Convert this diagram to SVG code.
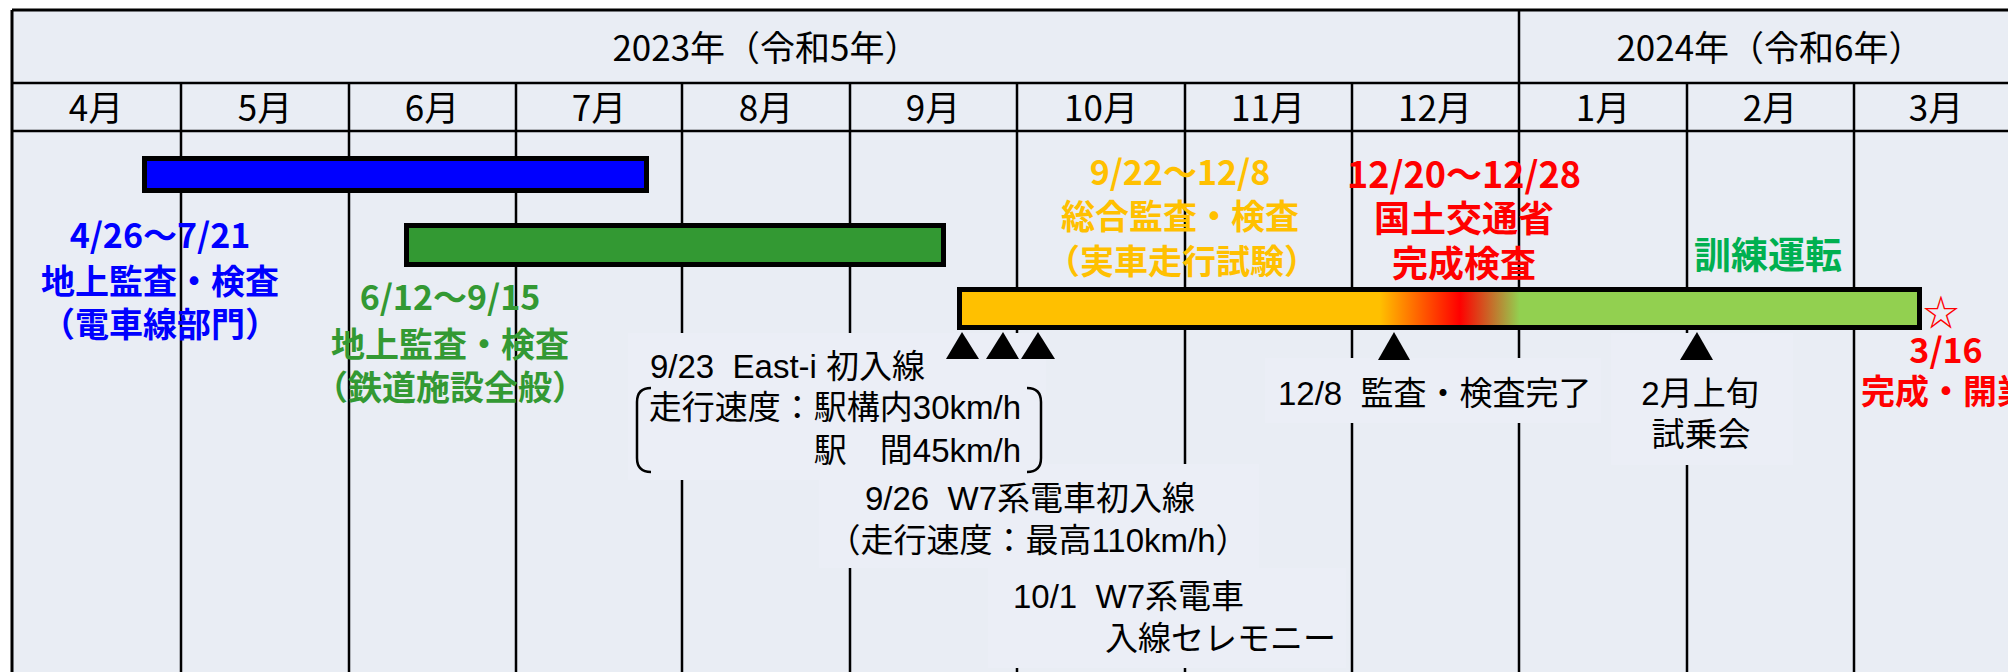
<svg xmlns="http://www.w3.org/2000/svg" width="2008" height="672" viewBox="0 0 2008 672">
<defs>
<style>
.hdr{font-family:"Noto Sans CJK JP","Noto Sans",sans-serif;font-size:35px;fill:#000;text-anchor:middle}
.lbl{font-family:"Liberation Sans","Noto Sans CJK JP",sans-serif;font-size:33px;fill:#000}
.big{font-family:"Noto Sans CJK JP",sans-serif;font-weight:bold;font-size:34px;text-anchor:middle}
.grid{stroke:#000;stroke-width:2.5;fill:none}
.box{fill:#EBEEF6}
.bar{stroke:#000;stroke-width:5}
.tri{fill:#000}
.brk{stroke:#000;stroke-width:2.5;fill:none}
</style>
<linearGradient id="grad" gradientUnits="userSpaceOnUse" x1="957" y1="0" x2="1922" y2="0">
<stop offset="0" stop-color="#FFC000"/>
<stop offset="0.438" stop-color="#FFC000"/>
<stop offset="0.521" stop-color="#FF0000"/>
<stop offset="0.583" stop-color="#92D050"/>
<stop offset="1" stop-color="#92D050"/>
</linearGradient>
</defs>
<rect x="0" y="0" width="2008" height="672" fill="#FFFFFF"/>
<rect x="12" y="10" width="2000" height="662" fill="#E9EDF4"/>
<g id="grid" class="grid">
<line x1="12" y1="10" x2="2008" y2="10" stroke-width="3"/>
<line x1="12" y1="10" x2="12" y2="672" stroke-width="3"/>
<line x1="12" y1="83" x2="2008" y2="83"/>
<line x1="12" y1="131" x2="2008" y2="131"/>
<line x1="1519" y1="10" x2="1519" y2="672"/>
<line x1="181" y1="83" x2="181" y2="672"/>
<line x1="349" y1="83" x2="349" y2="672"/>
<line x1="516" y1="83" x2="516" y2="672"/>
<line x1="682" y1="83" x2="682" y2="672"/>
<line x1="850" y1="83" x2="850" y2="672"/>
<line x1="1017" y1="83" x2="1017" y2="672"/>
<line x1="1185" y1="83" x2="1185" y2="672"/>
<line x1="1352" y1="83" x2="1352" y2="672"/>
<line x1="1687" y1="83" x2="1687" y2="672"/>
<line x1="1854" y1="83" x2="1854" y2="672"/>
</g>
<g id="header">
<text class="hdr" x="766" y="61">2023年（令和5年）</text>
<text class="hdr" x="1770" y="61">2024年（令和6年）</text>
<text class="hdr" x="96" y="121">4月</text>
<text class="hdr" x="265" y="121">5月</text>
<text class="hdr" x="432" y="121">6月</text>
<text class="hdr" x="599" y="121">7月</text>
<text class="hdr" x="766" y="121">8月</text>
<text class="hdr" x="933" y="121">9月</text>
<text class="hdr" x="1101" y="121">10月</text>
<text class="hdr" x="1268" y="121">11月</text>
<text class="hdr" x="1435" y="121">12月</text>
<text class="hdr" x="1603" y="121">1月</text>
<text class="hdr" x="1770" y="121">2月</text>
<text class="hdr" x="1936" y="121">3月</text>
</g>
<g id="label-boxes">
<rect class="box" x="628" y="333" width="418" height="147"/>
<rect class="box" x="819" y="464" width="440" height="104"/>
<rect class="box" x="988" y="568" width="358" height="100"/>
<rect class="box" x="1265" y="358" width="336" height="65"/>
<rect class="box" x="1611" y="333" width="182" height="132"/>
</g>
<g id="bar-denshasen">
<rect class="bar" x="144.5" y="158.5" width="502" height="32" fill="#0000FF"/>
<text class="big" fill="#0000FF" x="160" y="248">4/26～7/21</text>
<text class="big" fill="#0000FF" x="160" y="294">地上監査・検査</text>
<text class="big" fill="#0000FF" x="160" y="337">（電車線部門）</text>
</g>
<g id="bar-tetsudo">
<rect class="bar" x="406.5" y="225.5" width="537" height="39" fill="#339933"/>
<text class="big" fill="#339933" x="450" y="310">6/12～9/15</text>
<text class="big" fill="#339933" x="450" y="357">地上監査・検査</text>
<text class="big" fill="#339933" x="450" y="400">（鉄道施設全般）</text>
</g>
<g id="bar-main">
<rect class="bar" x="959.5" y="289.5" width="960" height="38" fill="url(#grad)"/>
</g>
<g id="sogo">
<text class="big" fill="#FFC000" x="1180" y="185">9/22～12/8</text>
<text class="big" fill="#FFC000" x="1180" y="229">総合監査・検査</text>
<text class="big" fill="#FFC000" x="1182" y="274">（実車走行試験）</text>
</g>
<g id="kansei-kensa">
<text class="big" fill="#FF0000" style="font-size:36px" x="1464" y="188">12/20～12/28</text>
<text class="big" fill="#FF0000" style="font-size:36px" x="1464" y="232">国土交通省</text>
<text class="big" fill="#FF0000" style="font-size:36px" x="1464" y="277">完成検査</text>
</g>
<g id="kunren">
<text class="big" fill="#00B050" style="font-size:37px" x="1768" y="269">訓練運転</text>
</g>
<g id="kaigyo">
<text class="big" fill="#FF0000" style="font-weight:normal;font-size:36px" x="1941" y="326">☆</text>
<text class="big" fill="#FF0000" x="1946" y="363">3/16</text>
<text class="big" fill="#FF0000" x="1946" y="404">完成・開業</text>
</g>
<g id="connectors">
<polygon class="tri" points="946,359 962,332 979,359"/>
<polygon class="tri" points="986,359 1003,332 1019,359"/>
<polygon class="tri" points="1021,359 1038,332 1055,359"/>
<polygon class="tri" points="1378,360 1394,332 1410,360"/>
<polygon class="tri" points="1680,360 1697,332 1713,360"/>
</g>
<g id="east-i">
<text class="lbl" x="650" y="378" xml:space="preserve">9/23  East-i 初入線</text>
<text class="lbl" x="1021" y="419" text-anchor="end">走行速度：駅構内30km/h</text>
<text class="lbl" x="1021" y="462" text-anchor="end">駅　間45km/h</text>
<path class="brk" d="M651,388 Q637,388 637,402 L637,458 Q637,472 651,472"/>
<path class="brk" d="M1027,388 Q1041,388 1041,402 L1041,458 Q1041,472 1027,472"/>
</g>
<g id="w7-first">
<text class="lbl" x="865" y="510" xml:space="preserve">9/26  W7系電車初入線</text>
<text class="lbl" x="1038" y="552" text-anchor="middle">（走行速度：最高110km/h）</text>
</g>
<g id="ceremony">
<text class="lbl" x="1013" y="608" xml:space="preserve">10/1  W7系電車</text>
<text class="lbl" x="1105" y="650">入線セレモニー</text>
</g>
<g id="kansa-kanryo">
<text class="lbl" x="1278" y="405" xml:space="preserve">12/8  監査・検査完了</text>
</g>
<g id="shijokai">
<text class="lbl" x="1700" y="405" text-anchor="middle">2月上旬</text>
<text class="lbl" x="1701" y="446" text-anchor="middle">試乗会</text>
</g>
</svg>
